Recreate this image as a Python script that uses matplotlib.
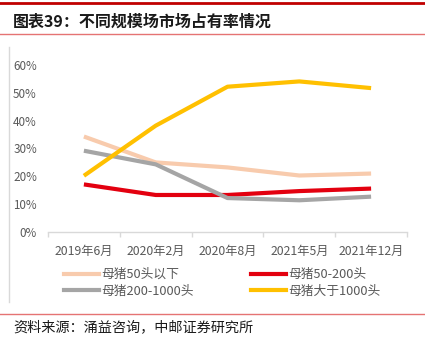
import matplotlib
matplotlib.use("Agg")
import matplotlib.pyplot as plt
from matplotlib.lines import Line2D
from matplotlib.ticker import FuncFormatter, FixedLocator

plt.rcParams['font.family'] = ['Noto Sans CJK SC', 'DejaVu Sans']

categories = ["2019年6月", "2020年2月", "2020年8月", "2021年5月", "2021年12月"]
series_names = ["母猪50头以下", "母猪50-200头", "母猪200-1000头", "母猪大于1000头"]
s_under50 = [0.343, 0.250, 0.232, 0.203, 0.210]
s_50_200 = [0.171, 0.133, 0.133, 0.147, 0.156]
s_200_1000 = [0.292, 0.243, 0.122, 0.114, 0.127]
s_over1000 = [0.202, 0.382, 0.522, 0.541, 0.517]
yticks = [0, 0.1, 0.2, 0.3, 0.4, 0.5, 0.6]

colors = ["#F8CBAD", "#E3000F", "#A5A5A5", "#FFC000"]
data = [s_under50, s_50_200, s_200_1000, s_over1000]

W, H = 425, 343
fig = plt.figure(figsize=(W / 100, H / 100), dpi=100)
ax = fig.add_axes([48 / W, 1 - 232 / H, (407 - 48) / W, (232 - 65) / H])

x = list(range(len(categories)))
for i in [0, 2, 1, 3]:
    ax.plot(x, data[i], color=colors[i], lw=3.0, solid_capstyle='butt',
            label=series_names[i], zorder=3 + i)

ax.set_xlim(-0.5, len(categories) - 0.5)
ax.set_ylim(0, 0.6)
ax.set_yticks(yticks)
ax.yaxis.set_major_formatter(FuncFormatter(lambda v, p: f"{v*100:.0f}%"))
ax.set_xticks(x)
ax.set_xticklabels(categories)
ax.xaxis.set_minor_locator(FixedLocator([i - 0.5 for i in range(len(categories) + 1)]))

for s in ["top", "right", "left"]:
    ax.spines[s].set_visible(False)
ax.spines["bottom"].set_color("#D9D9D9")
ax.spines["bottom"].set_linewidth(1.0)
ax.tick_params(axis='x', which='major', length=0, pad=9, labelsize=8.8, labelcolor="#595959")
ax.tick_params(axis='x', which='minor', length=3.5, width=1.0, color="#D9D9D9")
ax.tick_params(axis='y', length=0, pad=8, labelsize=8.4, labelcolor="#595959")
ax.set_facecolor("none")

# legend (row-wise order like the reference)
leg_order = [0, 2, 1, 3]
handles = [Line2D([], [], color=colors[i], lw=3.0) for i in leg_order]
labels = [series_names[i] for i in leg_order]
leg = fig.legend(handles, labels, ncol=2, loc='upper left',
                 bbox_to_anchor=(64 / W, 1 - 268 / H), frameon=False,
                 fontsize=9.2, handlelength=2.7, handletextpad=0.2,
                 columnspacing=4.5, labelspacing=0.3, borderpad=0, borderaxespad=0)
for t in leg.get_texts():
    t.set_color("#595959")

# decorations
fig.add_artist(Line2D([0, 1], [1 - 2.5 / H, 1 - 2.5 / H], color="#C00000", lw=2.0, transform=fig.transFigure))
fig.add_artist(Line2D([0, 1], [1 - 33.5 / H, 1 - 33.5 / H], color="#E57373", lw=1.0, transform=fig.transFigure))
fig.add_artist(Line2D([8.5 / W, 8.5 / W], [1 - 47 / H, 1 - 302 / H], color="#D9D9D9", lw=1.0, transform=fig.transFigure))
fig.add_artist(Line2D([0, 1], [1 - 313.5 / H, 1 - 313.5 / H], color="#E57373", lw=1.0, transform=fig.transFigure))

fig.text(13 / W, 1 - 22 / H, "图表39：不同规模场市场占有率情况", fontsize=11.5, fontweight='bold',
         color="#1a1a1a", va='center', ha='left')
fig.text(13 / W, 1 - 327 / H, "资料来源：涌益咨询，中邮证券研究所", fontsize=10.2,
         color="#1a1a1a", va='center', ha='left')

fig.savefig("out.png", dpi=100)
